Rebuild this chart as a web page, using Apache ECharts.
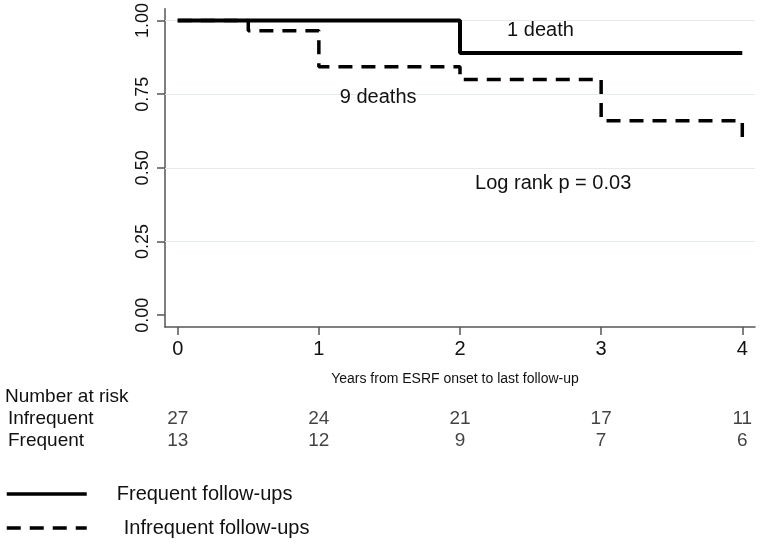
<!DOCTYPE html>
<html>
<head>
<meta charset="utf-8">
<script src="https://cdn.jsdelivr.net/npm/echarts@6/dist/echarts.min.js"></script>
<style>
  html, body { margin: 0; padding: 0; background: #fff; }
  #main { width: 760px; height: 545px; }
</style>
</head>
<body>
<div id="main"></div>
<script>
// survival estimates (years, proportion surviving)
var frequentCurve = [[0, 1.0], [2, 0.89], [4, 0.89]];
var infrequentCurve = [[0, 1.0], [0.5, 0.965], [1, 0.843], [2, 0.80], [3, 0.66], [4, 0.60]];

var xTicks = [0, 1, 2, 3, 4];
var yTicks = [0, 0.25, 0.5, 0.75, 1];
var gridTicks = [0.25, 0.5, 0.75, 1];

var riskGroups = ['Infrequent', 'Frequent'];
var riskInfrequent = [27, 24, 21, 17, 11];
var riskFrequent = [13, 12, 9, 7, 6];

var notes = [
    { text: '1 death', coord: [2.57, 0.967] },
    { text: '9 deaths', coord: [1.42, 0.738] },
    { text: 'Log rank p = 0.03', coord: [2.66, 0.448] }
];

var font = 'Liberation Sans, Arial, sans-serif';
var axisColor = '#555';

var riskData = [];
xTicks.forEach(function (x, i) {
    riskData.push([x, 'Infrequent', riskInfrequent[i]]);
    riskData.push([x, 'Frequent', riskFrequent[i]]);
});

var myChart = echarts.init(document.getElementById('main'));

var option = {
    backgroundColor: '#fff',
    animation: false,
    textStyle: { fontFamily: font, color: '#111' },
    grid: [
        { left: 165, right: 5, top: 7, bottom: 218 },
        { left: 165, right: 5, top: 408, height: 44 }
    ],
    legend: {
        orient: 'vertical',
        left: 5,
        top: 484,
        padding: 0,
        itemWidth: 80,
        itemHeight: 14,
        itemGap: 14,
        data: [
            { name: 'Frequent follow-ups' },
            { name: 'Infrequent follow-ups', textStyle: { padding: [0, 0, 0, 32] } }
        ],
        itemStyle: { color: 'rgba(0,0,0,0)', borderWidth: 0 },
        lineStyle: { width: 3.5 },
        textStyle: { fontSize: 20, color: '#111', fontFamily: font, padding: [0, 0, 0, 25] }
    },
    xAxis: [
        {
            type: 'value',
            gridIndex: 0,
            min: -0.09,
            max: 4.09,
            splitLine: { show: false },
            axisLine: { show: true, onZero: false, lineStyle: { color: axisColor, width: 1.5 } },
            axisTick: { show: true, length: 8, customValues: xTicks, lineStyle: { color: axisColor, width: 1.5 } },
            axisLabel: { customValues: xTicks, fontSize: 20, color: '#111', margin: 12 },
            name: 'Years from ESRF onset to last follow-up',
            nameLocation: 'middle',
            nameGap: 45,
            nameTextStyle: { fontSize: 14, color: '#111', padding: [0, 10, 0, 0] }
        },
        {
            type: 'value',
            gridIndex: 1,
            min: -0.09,
            max: 4.09,
            show: false
        }
    ],
    yAxis: [
        {
            type: 'value',
            gridIndex: 0,
            min: -0.04,
            max: 1.04,
            splitLine: { show: false },
            axisLine: { show: true, onZero: false, lineStyle: { color: axisColor, width: 1.5 } },
            axisTick: { show: true, length: 8, customValues: yTicks, lineStyle: { color: axisColor, width: 1.5 } },
            axisLabel: {
                customValues: yTicks,
                rotate: 90,
                fontSize: 18,
                color: '#111',
                margin: 13,
                formatter: function (v) { return v.toFixed(2); }
            }
        },
        {
            type: 'category',
            gridIndex: 1,
            data: riskGroups,
            inverse: true,
            axisLine: { show: false },
            axisTick: { show: false },
            splitLine: { show: false },
            axisLabel: { interval: 0, align: 'left', margin: 157, fontSize: 19, color: '#111' }
        }
    ],
    graphic: [
        {
            type: 'text',
            left: 5,
            top: 387,
            style: { text: 'Number at risk', font: '19px ' + font, fill: '#111' }
        }
    ],
    series: [
        {
            name: 'Frequent follow-ups',
            type: 'line',
            step: 'end',
            symbol: 'none',
            data: frequentCurve,
            lineStyle: { color: '#000', width: 4 },
            itemStyle: { color: '#000' },
            z: 3,
            markLine: {
                silent: true,
                symbol: 'none',
                label: { show: false },
                lineStyle: { color: '#e2ebed', width: 1, type: 'solid' },
                data: gridTicks.map(function (v) { return { yAxis: v }; }),
                z: 1
            },
            markPoint: {
                symbol: 'circle',
                symbolSize: 0,
                label: { show: true, position: 'inside', fontSize: 20, color: '#111', fontFamily: font },
                data: notes.map(function (n) {
                    return { coord: n.coord, value: n.text, label: { formatter: n.text } };
                })
            }
        },
        {
            name: 'Infrequent follow-ups',
            type: 'line',
            step: 'end',
            symbol: 'none',
            data: infrequentCurve,
            lineStyle: { color: '#000', width: 3.5, type: [14, 9] },
            itemStyle: { color: '#000' },
            z: 2
        },
        {
            name: 'risk',
            type: 'scatter',
            xAxisIndex: 1,
            yAxisIndex: 1,
            symbolSize: 0,
            data: riskData,
            label: {
                show: true,
                position: 'inside',
                fontSize: 19,
                color: '#111',
                formatter: function (p) { return p.value[2]; }
            }
        }
    ]
};

myChart.setOption(option);
</script>
</body>
</html>
